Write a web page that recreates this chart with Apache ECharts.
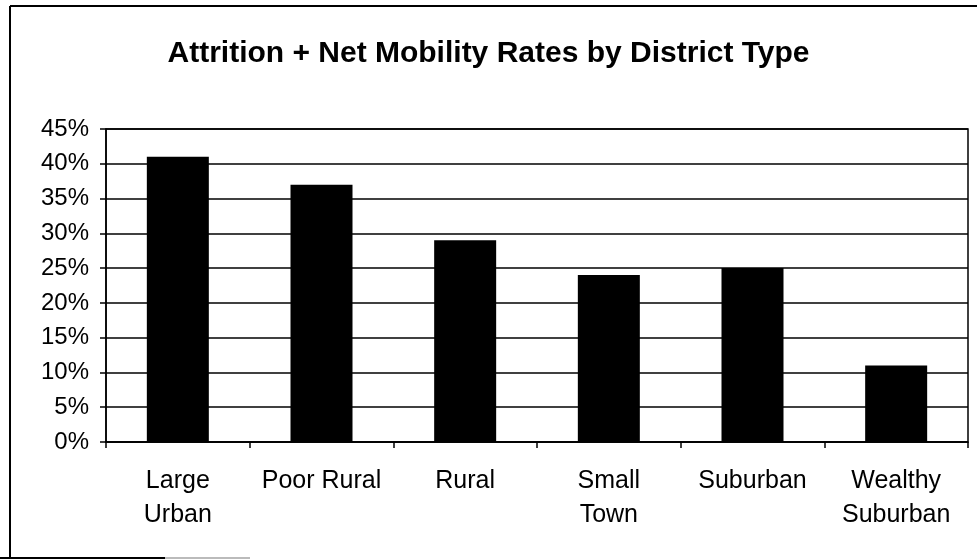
<!DOCTYPE html>
<html>
<head>
<meta charset="utf-8">
<script src="https://cdn.jsdelivr.net/npm/echarts@6/dist/echarts.min.js"></script>
<style>
  html, body { margin: 0; padding: 0; background: #fff; }
  #chart { width: 977px; height: 559px; }
</style>
</head>
<body>
<div id="chart"></div>
<script>
var categories = ['Large\nUrban', 'Poor Rural', 'Rural', 'Small\nTown', 'Suburban', 'Wealthy\nSuburban'];
var rates = [41, 37, 29, 24, 25, 11];
var yTicks = { min: 0, max: 45, interval: 5 };

var chart = echarts.init(document.getElementById('chart'));
var font = 'Liberation Sans, Arial, sans-serif';
var options = {
  backgroundColor: '#fff',
  animation: false,
  title: {
    text: 'Attrition + Net Mobility Rates by District Type',
    left: 'center',
    top: 34,
    textStyle: { color: '#000', fontSize: 30, fontWeight: 'bold', fontFamily: font }
  },
  // outer frame of the scanned figure
  graphic: [
    { type: 'line', shape: { x1: 10, y1: 6, x2: 977, y2: 6 }, style: { stroke: '#000', lineWidth: 2 } },
    { type: 'line', shape: { x1: 10, y1: 6, x2: 10, y2: 558 }, style: { stroke: '#000', lineWidth: 2 } },
    { type: 'line', shape: { x1: 0, y1: 558, x2: 165, y2: 558 }, style: { stroke: '#000', lineWidth: 2 } },
    { type: 'line', shape: { x1: 165, y1: 558, x2: 250, y2: 558 }, style: { stroke: '#bbb', lineWidth: 2 } }
  ],
  grid: {
    left: 106, right: 9, top: 129, bottom: 117,
    show: true, borderColor: '#000', borderWidth: 1.5
  },
  xAxis: {
    type: 'category',
    data: categories,
    axisLine: { lineStyle: { color: '#000', width: 1.5 } },
    axisTick: { show: true, length: 6, lineStyle: { color: '#000', width: 1.5 } },
    axisLabel: { color: '#000', fontSize: 25, fontFamily: font, margin: 22, lineHeight: 34, interval: 0 }
  },
  yAxis: {
    type: 'value',
    min: yTicks.min, max: yTicks.max, interval: yTicks.interval,
    axisLine: { show: true, lineStyle: { color: '#000', width: 1.5 } },
    axisTick: { show: true, length: 6, lineStyle: { color: '#000', width: 1.5 } },
    axisLabel: { color: '#000', fontSize: 24, fontFamily: font, margin: 17, formatter: '{value}%' },
    splitLine: { lineStyle: { color: '#000', width: 1.5 } }
  },
  series: [{
    type: 'bar',
    data: rates,
    barWidth: 62,
    itemStyle: { color: '#000' }
  }]
};
chart.setOption(options);
</script>
</body>
</html>
